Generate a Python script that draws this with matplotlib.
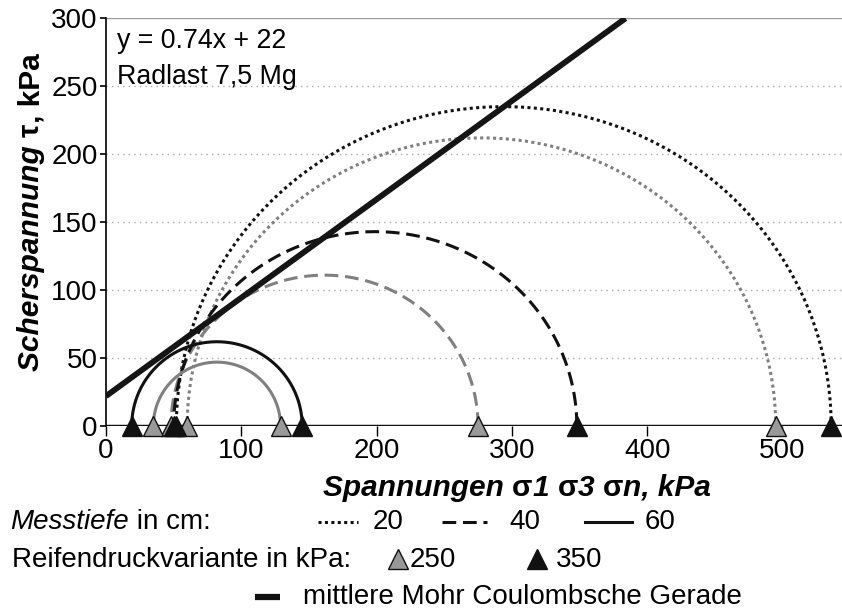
import numpy as np
import matplotlib
matplotlib.use("Agg")
import matplotlib.pyplot as plt
from matplotlib.lines import Line2D
from matplotlib.transforms import Affine2D

plt.rcParams['font.family'] = ['Liberation Sans', 'DejaVu Sans']

# ---- data ----
depths = [20, 20, 40, 40, 60, 60]                 # Messtiefe cm
pressures = [250, 350, 250, 350, 250, 350]        # Reifendruck kPa
sigma3 = [60, 52, 48, 50, 35, 19]
sigma1 = [495, 536, 275, 348, 129, 145]
tau_peak = [212, 235, 111, 143, 47, 62]

mc_x = [0, 384]
mc_y = [22, 300]

xticks = [0, 100, 200, 300, 400, 500]
yticks = [0, 50, 100, 150, 200, 250, 300]

depth_style = {20: (0, (1, 1.1)), 40: (0, (4.5, 2.2)), 60: '-'}
press_color = {250: '#808080', 350: '#111111'}
press_fill = {250: '#999999', 350: '#111111'}

FS = 20
W, H = 842, 612
fig = plt.figure(figsize=(W / 100, H / 100), dpi=100)
ax = fig.add_axes([106 / W, 1 - 426 / H, 1 - 106 / W, (426 - 18.3) / H])
ax.set_xlim(0, 544)
ax.set_ylim(0, 300)

for y in yticks[1:-1]:
    ax.axhline(y, color='#aaaaaa', lw=1.0, ls=(0, (1, 3)), zorder=1)
ax.axhline(300, color='#999999', lw=1.0, zorder=1)

t = np.linspace(0, np.pi, 300)
for d, p, s3, s1, tp in zip(depths, pressures, sigma3, sigma1, tau_peak):
    c = (s1 + s3) / 2
    r = (s1 - s3) / 2
    ax.plot(c + r * np.cos(t), tp * np.sin(t), color=press_color[p],
            ls=depth_style[d], lw=2.2, zorder=3, clip_on=False)

ax.plot(mc_x, mc_y, color='#151515', lw=4.2, solid_capstyle='butt', zorder=5)

ax.axhline(0, color='#111111', lw=2.5, zorder=4)

for d, p, s3, s1 in zip(depths, pressures, sigma3, sigma1):
    ax.plot([s3, s1], [0, 0], ls='none', marker='^', markersize=15,
            markerfacecolor=press_fill[p], markeredgecolor='#111111',
            markeredgewidth=1.0, zorder=6, clip_on=False)

for sp in ['top', 'right', 'bottom']:
    ax.spines[sp].set_visible(False)
ax.spines['left'].set_linewidth(1.2)

ax.set_xticks(xticks)
ax.set_yticks(yticks)
ax.tick_params(axis='x', direction='out', length=7, width=1, labelsize=FS, pad=2)
ax.tick_params(axis='y', direction='out', length=4, width=1.2, labelsize=FS, pad=2)

ax.text(8, 283, 'y = 0.74x + 22', fontsize=19.3, va='center', ha='left')
ax.text(8, 257, 'Radlast 7,5 Mg', fontsize=19.3, va='center', ha='left')

renderer = fig.canvas.get_renderer()


def seq_text(x_px, y_px, parts, ha='left', rotation=0, fontsize=FS):
    """place text segments one after another (x_px,y_px = start or center)."""
    arts = []
    for s, kw in parts:
        a = fig.text(0, 0, s, fontsize=fontsize, va='center', ha='left',
                     rotation=rotation, rotation_mode='anchor', **kw)
        arts.append(a)
    widths = []
    for a in arts:
        a.set_rotation(0)
        bb = a.get_window_extent(renderer)
        widths.append(bb.width)
        a.set_rotation(rotation)
    total = sum(widths)
    start = x_px if ha == 'left' else (x_px - total / 2 if rotation == 0 else y_px - total / 2)
    pos = start
    for a, w in zip(arts, widths):
        if rotation == 0:
            a.set_position((pos / W, 1 - y_px / H))
        else:
            a.set_position((x_px / W, 1 - (H - pos) / H) if False else (x_px / W, pos / H))
        pos += w
    return arts


bi = dict(fontweight='bold', fontstyle='italic')
b = dict(fontweight='bold')
# x axis title (centered at 517, 488)
seq_text(517, 488, [('Spannungen ', bi), ('σ', b), ('1 ', bi), ('σ', b), ('3 ', bi),
                    ('σ', b), ('n, kPa', bi)], ha='center', fontsize=21.5)
# y axis title, rotated; centre at y=212 px from top -> 400 from bottom
seq_text(31, H - 212, [('Scherspannung ', bi), ('τ', b), (', kPa', b)],
         ha='center', rotation=90, fontsize=21.5)

# legend row 1
y1 = 522
seq_text(10, y1, [('Messtiefe', dict(fontstyle='italic')), (' in cm:', {})])
leg_depth = [(318, 358, 373, 20), (442, 487, 509, 40), (585, 632, 645, 60)]
for x0, x1, xt, d in leg_depth:
    fig.add_artist(Line2D([x0 / W, x1 / W], [1 - y1 / H, 1 - y1 / H], color='#111111',
                          ls=depth_style[d], lw=2.2, transform=fig.transFigure))
    fig.text(xt / W, 1 - y1 / H, str(d), fontsize=FS, ha='left', va='center')

# legend row 2
y2 = 1 - 560 / H
fig.text(12 / W, y2, 'Reifendruckvariante in kPa:', fontsize=FS, ha='left', va='center')
for xm, xt, p in [(398, 410, 250), (537, 556, 350)]:
    fig.add_artist(Line2D([xm / W], [y2 + 0.002], ls='none', marker='^', markersize=14,
                          markerfacecolor=press_fill[p], markeredgecolor='#111111',
                          markeredgewidth=1.0, transform=fig.transFigure))
    fig.text(xt / W, y2, str(p), fontsize=FS, ha='left', va='center')

# legend row 3
y3 = 1 - 597 / H
fig.add_artist(Line2D([255 / W, 280 / W], [y3, y3], color='#111111', lw=4.5,
                      solid_capstyle='butt', transform=fig.transFigure))
fig.text(303 / W, y3, 'mittlere Mohr Coulombsche Gerade', fontsize=FS,
         ha='left', va='center')

fig.savefig('out.png', dpi=100)
